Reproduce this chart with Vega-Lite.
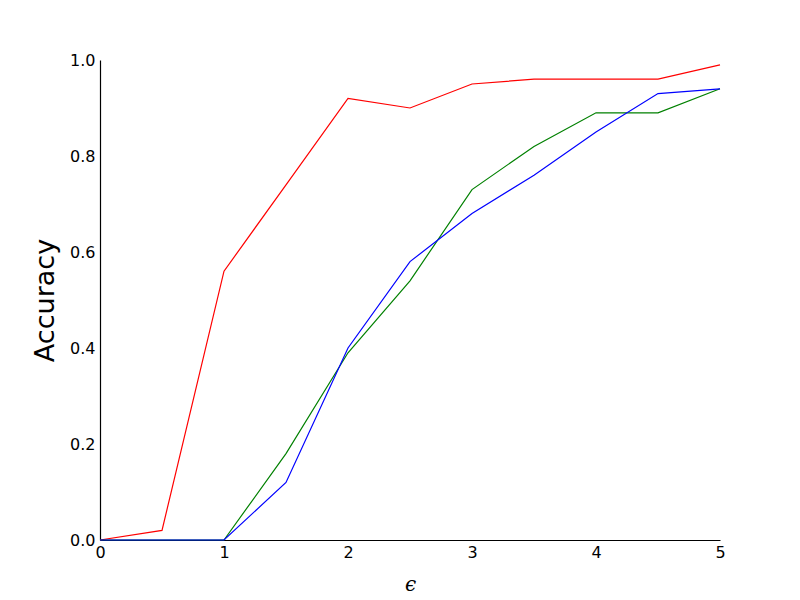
{
  "$schema": "https://vega.github.io/schema/vega-lite/v6.json",
  "width": 620,
  "height": 480,
  "autosize": "none",
  "padding": {"left": 100, "top": 60, "right": 80, "bottom": 60},
  "background": "white",
  "config": {"view": {"stroke": null}, "font": "DejaVu Sans"},
  "data": {"values": [
    {"eps": 0, "acc": 0.0, "s": "a"},
    {"eps": 0.5, "acc": 0.02, "s": "a"},
    {"eps": 1, "acc": 0.56, "s": "a"},
    {"eps": 1.5, "acc": 0.74, "s": "a"},
    {"eps": 2, "acc": 0.92, "s": "a"},
    {"eps": 2.5, "acc": 0.90, "s": "a"},
    {"eps": 3, "acc": 0.95, "s": "a"},
    {"eps": 3.5, "acc": 0.96, "s": "a"},
    {"eps": 4, "acc": 0.96, "s": "a"},
    {"eps": 4.5, "acc": 0.96, "s": "a"},
    {"eps": 5, "acc": 0.99, "s": "a"},
    {"eps": 0, "acc": 0.0, "s": "b"},
    {"eps": 0.5, "acc": 0.0, "s": "b"},
    {"eps": 1, "acc": 0.0, "s": "b"},
    {"eps": 1.5, "acc": 0.18, "s": "b"},
    {"eps": 2, "acc": 0.39, "s": "b"},
    {"eps": 2.5, "acc": 0.54, "s": "b"},
    {"eps": 3, "acc": 0.73, "s": "b"},
    {"eps": 3.5, "acc": 0.82, "s": "b"},
    {"eps": 4, "acc": 0.89, "s": "b"},
    {"eps": 4.5, "acc": 0.89, "s": "b"},
    {"eps": 5, "acc": 0.94, "s": "b"},
    {"eps": 0, "acc": 0.0, "s": "c"},
    {"eps": 0.5, "acc": 0.0, "s": "c"},
    {"eps": 1, "acc": 0.0, "s": "c"},
    {"eps": 1.5, "acc": 0.12, "s": "c"},
    {"eps": 2, "acc": 0.40, "s": "c"},
    {"eps": 2.5, "acc": 0.58, "s": "c"},
    {"eps": 3, "acc": 0.68, "s": "c"},
    {"eps": 3.5, "acc": 0.76, "s": "c"},
    {"eps": 4, "acc": 0.85, "s": "c"},
    {"eps": 4.5, "acc": 0.93, "s": "c"},
    {"eps": 5, "acc": 0.94, "s": "c"}
  ]},
  "mark": {"type": "line", "strokeWidth": 1.2, "clip": false},
  "encoding": {
    "x": {"field": "eps", "type": "quantitative",
      "scale": {"domain": [0, 5], "nice": false, "zero": false},
      "axis": {"title": "ϵ", "values": [0, 1, 2, 3, 4, 5], "format": "d", "grid": false, "ticks": false, "labelFlush": false,
        "domainColor": "black", "domainWidth": 1.2, "labelFontSize": 16, "labelColor": "black", "labelPadding": 4,
        "titleFontSize": 20, "titleFontWeight": "normal", "titleFont": "DejaVu Serif", "titleFontStyle": "italic", "titleColor": "black", "titlePadding": 14}},
    "y": {"field": "acc", "type": "quantitative",
      "scale": {"domain": [0, 1], "nice": false},
      "axis": {"title": "Accuracy", "values": [0, 0.2, 0.4, 0.6, 0.8, 1.0], "format": ".1f", "grid": false, "ticks": false, "labelFlush": false,
        "domainColor": "black", "domainWidth": 1.2, "labelFontSize": 16, "labelColor": "black", "labelPadding": 5,
        "titleFontSize": 27, "titleFontWeight": "normal", "titleColor": "black", "titlePadding": 10}},
    "color": {"field": "s", "type": "nominal", "legend": null,
      "scale": {"domain": ["a", "b", "c"], "range": ["#ff0000", "#008000", "#0000ff"]}}
  }
}
